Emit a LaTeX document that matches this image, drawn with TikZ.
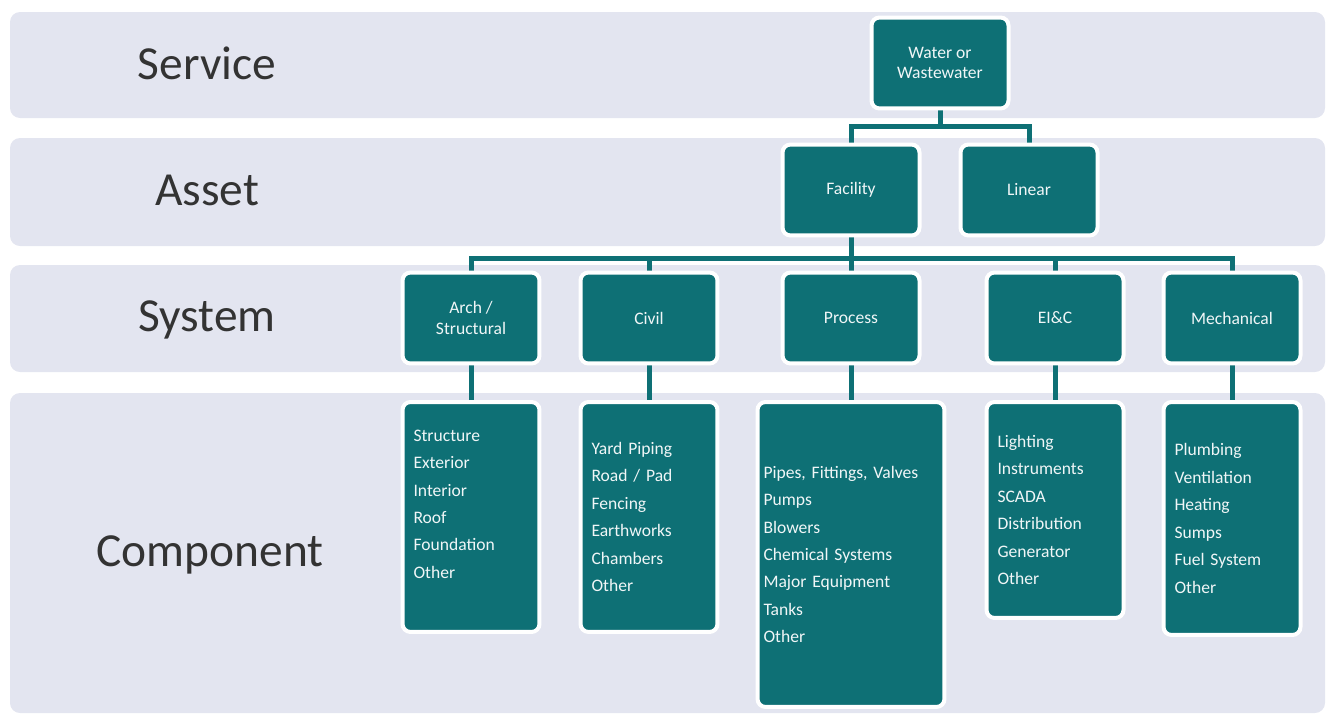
\documentclass[tikz,border=0pt]{standalone}
\usepackage{fontspec}
\setmainfont{Carlito}
\usetikzlibrary{positioning,calc}
\definecolor{tealbox}{RGB}{14,112,117}
\definecolor{bandgray}{RGB}{227,229,240}
\definecolor{labelgray}{RGB}{51,51,51}
\pgfdeclarelayer{bands}
\pgfdeclarelayer{links}
\pgfsetlayers{bands,links,main}

\begin{document}
\begin{tikzpicture}[x=0.02cm, y=-0.02cm,
  band/.style={fill=bandgray, rounded corners=0.2cm},
  level/.style={font=\fontsize{27}{30}\selectfont, text=labelgray},
  tbox/.style={rectangle, rounded corners=0.16cm, fill=tealbox, draw=white,
               line width=0.08cm, text=white!94!tealbox, minimum width=2.74cm,
               minimum height=1.82cm, align=center, inner sep=0pt,
               font=\fontsize{10}{11.5}\selectfont},
  lbox/.style={rectangle, rounded corners=0.16cm, fill=tealbox, draw=white,
               line width=0.08cm, text=white!94!tealbox, minimum width=2.74cm,
               text width=2.3cm, align=left, inner xsep=0.22cm, anchor=north,
               font=\fontsize{10}{15.6}\selectfont},
  link/.style={draw=tealbox, line width=0.1cm},
]
\useasboundingbox (0,0) rectangle (1331,717);
%--- level bands ---------------------------------------------------------
\begin{pgfonlayer}{bands}
  \fill[band] (10,12)  rectangle (1325,118);
  \fill[band] (10,138) rectangle (1325,246);
  \fill[band] (10,265) rectangle (1325,372);
  \fill[band] (10,393) rectangle (1325,713);
\end{pgfonlayer}
\node[level] (lsvc)  at (207,63)  {Service};
\node[level] (lasset) at (207,190) {Asset};
\node[level] (lsys)  at (207,320) {System};
\node[level] (lcomp) at (210,555) {Component};
%--- service and asset ---------------------------------------------------
\node[tbox] (water)    at (940,63)  {Water or\\Wastewater};
\node[tbox] (facility) at (851,190) {Facility};
\node[tbox] (linear)   at (1029,190) {Linear};
%--- systems -------------------------------------------------------------
\node[tbox] (arch)    at (471,318)  {Arch /\\Structural};
\node[tbox] (civil)   at (649,318)  {Civil};
\node[tbox] (process) at (851,318)  {Process};
\node[tbox] (eic)     at (1055,318) {EI\&C};
\node[tbox] (mech)    at (1232,318) {Mechanical};
%--- components ----------------------------------------------------------
\node[lbox, minimum height=4.6cm] (archlist) at (471,400)
  {Structure\\Exterior\\Interior\\Roof\\Foundation\\Other\\[-0.03cm]\mbox{}};
\node[lbox, minimum height=4.6cm] (civillist) at (649,400)
  {Yard Piping\\Road / Pad\\Fencing\\Earthworks\\Chambers\\Other};
\node[lbox, minimum height=6.1cm, minimum width=3.74cm, text width=3.5cm,
      inner xsep=0.12cm] (processlist) at (851,400)
  {Pipes, Fittings, Valves\\Pumps\\Blowers\\Chemical Systems\\Major Equipment\\Tanks\\Other};
\node[lbox, minimum height=4.32cm] (eiclist) at (1055,400)
  {Lighting\\Instruments\\SCADA\\Distribution\\Generator\\Other};
\node[lbox, minimum height=4.66cm] (mechlist) at (1232,400)
  {Plumbing\\Ventilation\\Heating\\Sumps\\Fuel System\\Other};
%--- connectors ----------------------------------------------------------
\begin{pgfonlayer}{links}
  \coordinate (svcjoint) at (940,126);
  \coordinate (sysjoint) at (851,258);
  \draw[link] (water) -- (svcjoint);
  \draw[link] (facility.north) |- (svcjoint) -| (linear.north);
  \draw[link] (facility) -- (sysjoint);
  \draw[link] (arch.north) |- (sysjoint) -| (mech.north);
  \foreach \s in {civil,process,eic}
    \draw[link] (\s.north) -- (\s.north |- sysjoint);
  \foreach \s in {arch,civil,process,eic,mech}
    \draw[link] (\s) -- (\s list.north);
\end{pgfonlayer}
\end{tikzpicture}
\end{document}
